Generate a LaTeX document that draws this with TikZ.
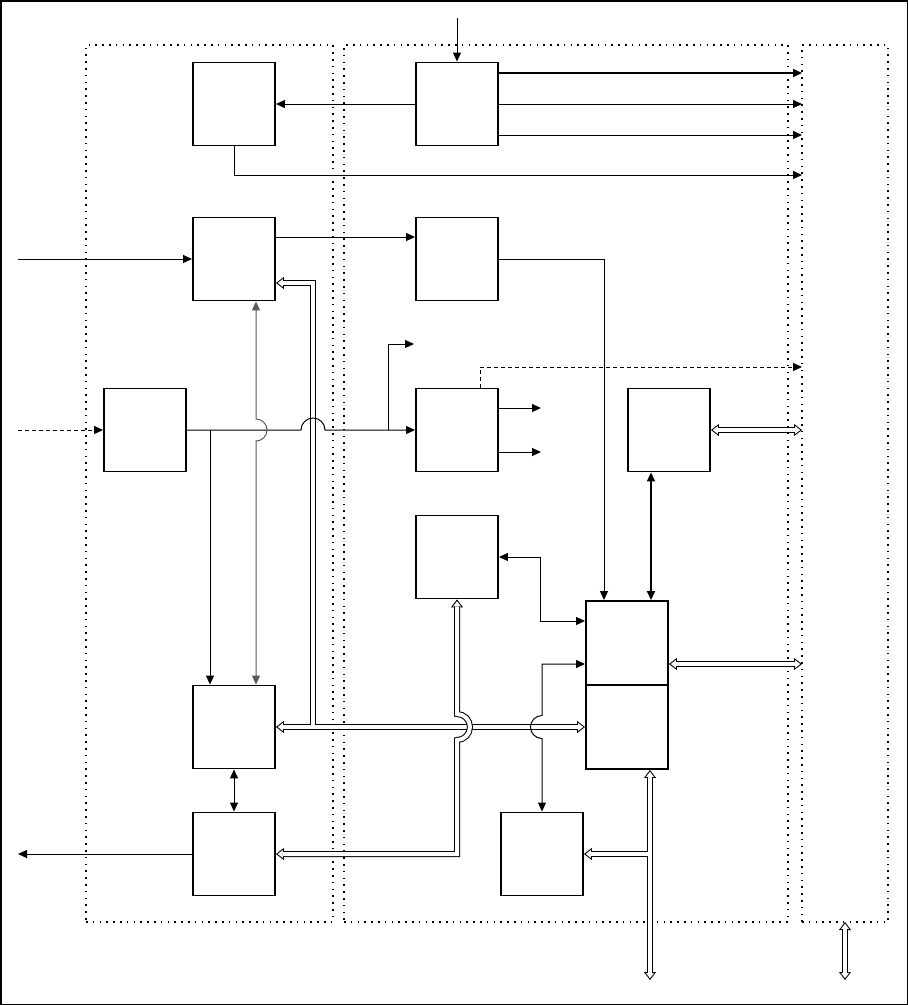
\documentclass[tikz,border=0pt]{standalone}
\usetikzlibrary{arrows.meta,calc}
\begin{document}
\begin{tikzpicture}[x=1pt,y=1pt,yscale=-1,
  box/.style={draw, line width=1.9pt, minimum width=82pt, minimum height=83pt, inner sep=0pt},
  region/.style={draw, line width=1.5pt, dash pattern=on 1.6pt off 5.2pt, inner sep=0pt, outer sep=0pt, minimum height=877pt},
  ln/.style={line width=1pt},
  arr/.style={ln,-{Triangle[length=9pt,width=8pt]}},
  biarr/.style={ln,{Triangle[length=9pt,width=8pt]}-{Triangle[length=9pt,width=8pt]}},
  dsh/.style={dash pattern=on 4pt off 3pt},
  bus/.style={line width=1pt, double=white, double distance=4pt},
  htip/.style={line width=0.9pt,-{Triangle[open,length=8pt,width=12pt,fill=white]}},
]
\useasboundingbox (0,0) rectangle (908,1005);
\draw[line width=1.5pt] (0.75,0.75) rectangle (907.25,1004.25);

% regions
\node[region, minimum width=247pt] (R1) at (209.5,483.5) {};
\node[region, minimum width=444pt] (R2) at (566,483.5) {};
\node[region, minimum width=86pt] (R3) at (845,483.5) {};

% boxes
\node[box] (A) at (234,104) {};
\node[box] (B) at (457,104) {};
\node[box] (C) at (234,259) {};
\node[box] (D) at (457,259) {};
\node[box] (E) at (145,430) {};
\node[box] (F) at (457,430) {};
\node[box] (G) at (669,430) {};
\node[box] (H) at (457,557) {};
\node[box, minimum height=84pt] (I1) at (627,643) {};
\node[box, minimum height=84pt] (I2) at (627,727) {};
\node[box] (J) at (234,727) {};
\node[box] (K) at (234,854) {};
\node[box] (L) at (542,854) {};

% free ends
\coordinate (inTop) at (457,18);
\coordinate (inC) at (18,259);
\coordinate (inE) at (18,430);
\coordinate (outK) at (18,854);
\coordinate (p73) at (802,73);
\coordinate (p104) at (802,104);
\coordinate (p135) at (802,135);
\coordinate (p175) at (802,175);
\coordinate (p367) at (802,367);
\coordinate (p430) at (802,430);
\coordinate (p664) at (802,664);
\coordinate (o344) at (414,344);
\coordinate (o408) at (541,408);
\coordinate (o452) at (541,452);
\coordinate (busEnd) at (650,980);
\coordinate (busR) at (845,980);

% helper points
\coordinate (j1) at ($(J.north)+(-24,0)$);
\coordinate (c1) at ($(C.south)+(22,0)$);
\coordinate (j2) at ($(J.north)+(22,0)$);
\coordinate (g1) at ($(G.south)+(-18,0)$);
\coordinate (i3) at ($(I1.west)+(0,21)$);
\coordinate (i4) at ($(I1.east)+(0,21)$);
\coordinate (i5) at ($(I2.south)+(23,0)$);
\coordinate (cb) at ($(C.east)+(0,24)$);
\coordinate (vx) at ($(J.center)+(79,0)$);

% ---- hollow tips of buses
\draw[htip] ($(cb)+(12,0)$) -- (cb);
\draw[htip] ($(J.east)+(12,0)$) -- (J.east);
\draw[htip] ($(I2.west)+(-12,0)$) -- (I2.west);
\draw[htip] ($(G.east)+(12,0)$) -- (G.east);
\draw[htip] ($(p430)+(-12,0)$) -- (p430);
\draw[htip] ($(i4)+(12,0)$) -- (i4);
\draw[htip] ($(p664)+(-12,0)$) -- (p664);
\draw[htip] ($(H.south)+(0,12)$) -- (H.south);
\draw[htip] ($(K.east)+(12,0)$) -- (K.east);
\draw[htip] ($(i5)+(0,12)$) -- (i5);
\draw[htip] ($(busEnd)+(0,-12)$) -- (busEnd);
\draw[htip] ($(L.east)+(12,0)$) -- (L.east);
\draw[htip] ($(R3.south)+(0,12)$) -- (R3.south);
\draw[htip] ($(busR)+(0,-12)$) -- (busR);

% ---- buses
\draw[bus] ($(J.east)+(7,0)$) -- ($(I2.west)+(-7,0)$)
           ($(cb)+(7,0)$) -| (vx);
\draw[bus] ($(G.east)+(7,0)$) -- ($(p430)+(-7,0)$);
\draw[bus] ($(i4)+(7,0)$) -- ($(p664)+(-7,0)$);
\draw[bus] ($(H.south)+(0,7)$) -- ($(H.south |- J.east)+(0,-13)$)
           arc[start angle=-90,end angle=90,radius=13] -- (H.south |- K.east) -- ($(K.east)+(7,0)$);
\draw[bus] ($(i5)+(0,7)$) -- ($(busEnd)+(0,-7)$)
           (i5 |- L.east) -- ($(L.east)+(7,0)$);
\draw[bus] ($(R3.south)+(0,7)$) -- ($(busR)+(0,-7)$);

% ---- thin connectors
\draw[arr] (inTop) -- (B.north);
\draw[arr] (B.west) -- (A.east);
\draw[arr, line width=1.8pt] (B.east |- p73) -- (p73);
\draw[arr] (B.east |- p104) -- (p104);
\draw[arr] (B.east |- p135) -- (p135);
\draw[arr] (A.south) |- (p175);
\draw[arr] (inC) -- (C.west);
\draw[arr] ($(C.east)+(0,-22)$) -- ($(D.west)+(0,-22)$);
\draw[arr] (D.east) -| ($(I1.north)+(-23,0)$);
\draw[arr, dsh] (inE) -- (E.west);
\draw[arr] (E.east) -- ($(E.east -| vx)+(-12,0)$) arc[start angle=180,end angle=360,radius=12] -- (F.west);
\draw[arr] ($(F.west)+(-27,0)$) |- (o344);
\draw[arr] (j1 |- E.east) -- (j1);
\draw[biarr, black!65] (c1) -- ($(c1 |- E.east)+(0,-11)$)
      arc[start angle=-90,end angle=90,radius=11] -- (j2);
\draw[arr, dsh] ($(F.north)+(23,0)$) |- (p367);
\draw[arr] (F.east |- o408) -- (o408);
\draw[arr] (F.east |- o452) -- (o452);
\draw[biarr, line width=1.8pt] (g1) -- (g1 |- I1.north);
\draw[biarr] (H.east) -- ++(42,0) |- ($(I1.west)+(0,-22)$);
\draw[biarr] (i3) -| ($(L.north |- J.east)+(0,-11.5)$)
      arc[start angle=270,end angle=90,radius=11.5] -- (L.north);
\draw[biarr] (J.south) -- (K.north);
\draw[arr] (K.west) -- (outK);
\end{tikzpicture}
\end{document}
